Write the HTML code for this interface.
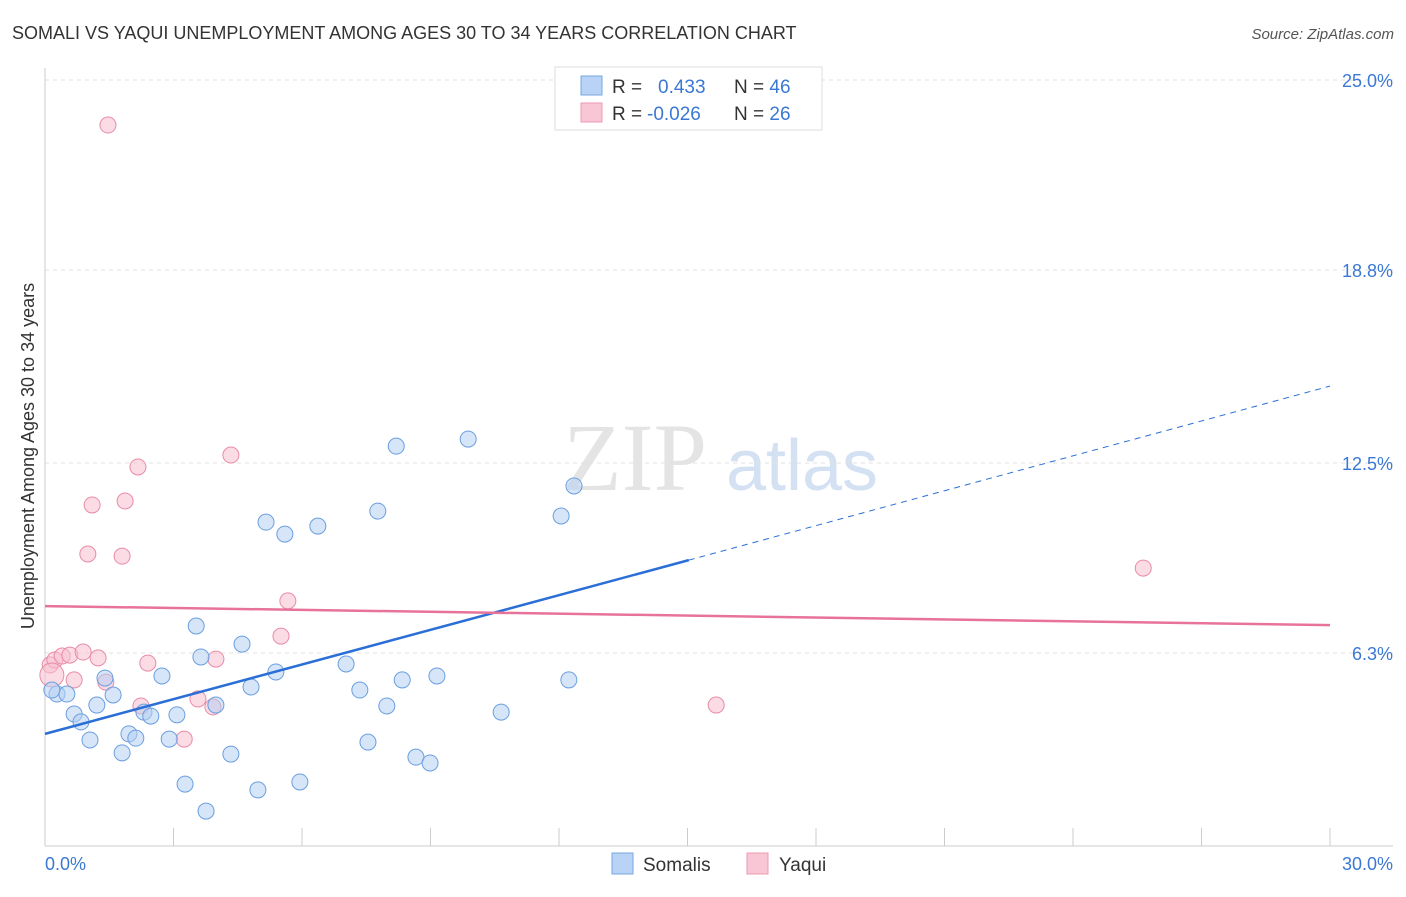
<!DOCTYPE html>
<html><head><meta charset="utf-8"><style>
body{margin:0;background:#fff;font-family:"Liberation Sans",sans-serif}
svg text{font-family:"Liberation Sans",sans-serif}
</style></head><body>
<svg id="c" width="1406" height="892">
<text x="12" y="39" font-size="18" fill="#333">SOMALI VS YAQUI UNEMPLOYMENT AMONG AGES 30 TO 34 YEARS CORRELATION CHART</text>
<text x="1394" y="39" font-size="15" fill="#555" text-anchor="end" font-style="italic">Source: ZipAtlas.com</text>
<g>
<text x="635" y="490" font-size="96" fill="#e4e4e4" text-anchor="middle" font-family="Liberation Serif" style="font-family:'Liberation Serif',serif">ZIP</text>
<text x="802" y="490" font-size="72" fill="#d3e1f3" text-anchor="middle">atlas</text>
</g>
<g id="grid"></g><g id="axes"></g><g id="marks"></g>
<text transform="translate(34,456) rotate(-90)" font-size="18" fill="#333" text-anchor="middle">Unemployment Among Ages 30 to 34 years</text>
<g>
<rect x="555" y="67" width="267" height="63" fill="#fff" stroke="#ddd"/>
<rect x="581" y="76" width="21" height="19" fill="#b8d3f5" stroke="#7aa7e0"/>
<rect x="581" y="103" width="21" height="19" fill="#f8c6d4" stroke="#ec9ab2"/>
<text x="612" y="93" font-size="19" fill="#333">R = <tspan fill="#3a78d4" x="658">0.433</tspan><tspan fill="#333" x="734">N = </tspan><tspan fill="#3a78d4">46</tspan></text>
<text x="612" y="120" font-size="19" fill="#333">R = <tspan fill="#3a78d4" x="647">-0.026</tspan><tspan fill="#333" x="734">N = </tspan><tspan fill="#3a78d4">26</tspan></text>
</g>
<g>
<rect x="612" y="853" width="21" height="21" fill="#b8d3f5" stroke="#7aa7e0"/>
<text x="643" y="871" font-size="19" fill="#333">Somalis</text>
<rect x="747" y="853" width="21" height="21" fill="#f8c6d4" stroke="#ec9ab2"/>
<text x="779" y="871" font-size="19" fill="#333">Yaqui</text>
</g>
</svg>
<script>
const yTicks=[6.3,12.5,18.8,25.0];
const yTickLabels=["6.3%","12.5%","18.8%","25.0%"];
const xTickLabels=["0.0%","30.0%"];
const somaliX=[0.28,0.51,0.68,0.84,1.05,1.21,1.40,1.59,1.80,1.96,2.12,2.31,2.47,2.73,2.90,3.08,3.27,3.53,3.64,3.76,3.99,4.34,4.60,4.81,4.97,5.16,5.39,5.60,5.95,6.37,7.03,7.35,7.54,7.77,7.98,8.20,8.34,8.66,8.99,9.15,9.88,10.65,12.05,12.23,12.35,0.16];
const somaliY=[4.96,4.96,4.31,4.05,3.46,4.60,5.48,4.93,3.04,3.66,3.52,4.37,4.24,5.55,3.49,4.28,2.02,7.18,6.17,1.14,4.60,3.00,6.59,5.19,1.83,10.57,5.68,10.18,2.09,10.44,5.94,5.09,3.39,10.93,4.57,13.05,5.42,2.90,2.71,5.55,13.28,4.37,10.77,5.42,11.75,5.09];
const yaquiX=[1.47,0.12,0.23,0.40,0.58,0.68,0.89,1.00,1.10,1.24,1.42,1.80,1.87,2.17,2.24,2.40,3.25,3.57,3.92,3.99,4.34,5.51,5.67,15.67,25.64,0.16];
const yaquiY=[23.53,5.91,6.07,6.20,6.23,5.42,6.33,9.53,11.13,6.14,5.35,9.46,11.26,12.37,4.57,5.97,3.49,4.80,4.54,6.10,12.76,6.85,8.00,4.60,9.07,5.58];
const somaliTrend=[3.66,9.33,15.01]; // at x=0, 15.03, 30
const yaquiTrend=[7.83,7.21]; // at x=0, 30
const NS="http://www.w3.org/2000/svg";
const X=v=>45+v*(1285/30), Y=v=>846-v*30.64;
function mk(p,t,a){const e=document.createElementNS(NS,t);for(const k in a)e.setAttribute(k,a[k]);p.appendChild(e);return e;}
const grid=document.getElementById('grid'),axes=document.getElementById('axes'),marks=document.getElementById('marks');
yTicks.forEach((t,i)=>{
 const l=mk(grid,'line',{x1:45,x2:1393,y1:Y(t),y2:Y(t),stroke:'#e2e2e2','stroke-dasharray':'4,4'});
 
 
 const tx=mk(axes,'text',{x:1393,y:Y(t)+7,'font-size':18,fill:'#3a78d4','text-anchor':'end'});
 tx.textContent=yTickLabels[i];
 
 
});
let a=mk(axes,'line',{x1:45,x2:45,y1:68,y2:846,stroke:'#ccc'});


a=mk(axes,'line',{x1:45,x2:1393,y1:846,y2:846,stroke:'#ccc'});


for(let k=1;k<=10;k++){const tk=mk(axes,'line',{x1:X(k*3),x2:X(k*3),y1:828,y2:846,stroke:'#ccc'});
 
 }
[[0,'start'],[30,'end']].forEach((d,i)=>{const tx=mk(axes,'text',{x:i?1393:45,y:870,'font-size':18,fill:'#3a78d4','text-anchor':d[1]});
 tx.textContent=xTickLabels[i];
 
 });
function dot(x,y,f,s,r,n){const c=mk(marks,'circle',{cx:X(x),cy:Y(y),r:r,fill:f,'fill-opacity':0.55,stroke:s,'stroke-width':1});
 
 }
yaquiX.forEach((x,i)=>dot(x,yaquiY[i],'#f8c0d0','#e88ba8',i==yaquiX.length-1?12:8,'yaqui-point'));
somaliX.forEach((x,i)=>dot(x,somaliY[i],'#b5d0f3','#6a9fe0',8,'somali-point'));
let t=mk(marks,'line',{x1:X(0),y1:Y(somaliTrend[0]),x2:X(15.03),y2:Y(somaliTrend[1]),stroke:'#2b6fd6','stroke-width':2.5});


t=mk(marks,'line',{x1:X(15.03),y1:Y(somaliTrend[1]),x2:X(30),y2:Y(somaliTrend[2]),stroke:'#2b6fd6','stroke-width':1,'stroke-dasharray':'6,5'});


t=mk(marks,'line',{x1:X(0),y1:Y(yaquiTrend[0]),x2:X(30),y2:Y(yaquiTrend[1]),stroke:'#e8739a','stroke-width':2.5});


</script>
</body></html>
